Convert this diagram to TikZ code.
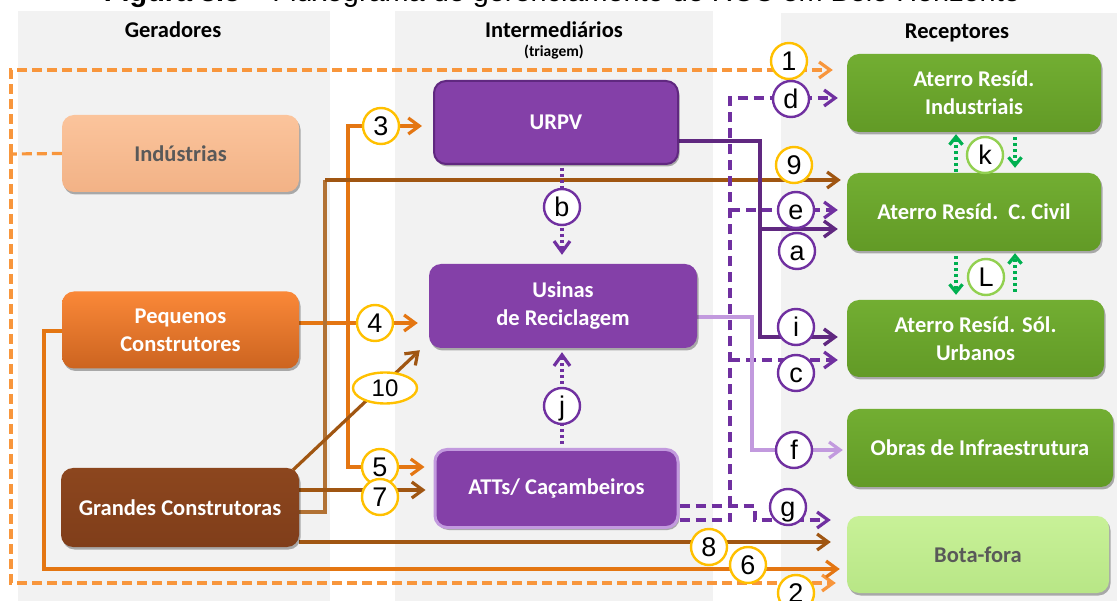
\documentclass[tikz,border=0pt]{standalone}
\usepackage{fontspec}
\setmainfont{Carlito}
\newfontfamily\arialf{Liberation Sans}
\usetikzlibrary{arrows.meta,shadows,shapes.geometric,calc}
\pgfdeclarelayer{bg}
\pgfsetlayers{bg,main}

\definecolor{panelc}{RGB}{242,242,242}
\definecolor{orgL}{RGB}{248,150,60}
\definecolor{org}{RGB}{228,118,18}
\definecolor{brn}{RGB}{160,86,18}
\definecolor{brnL}{RGB}{178,114,52}
\definecolor{purD}{RGB}{96,40,128}
\definecolor{pur}{RGB}{112,48,160}
\definecolor{purL}{RGB}{194,154,222}
\definecolor{boxP}{RGB}{132,64,168}
\definecolor{grnA}{RGB}{0,176,80}
\definecolor{yel}{RGB}{255,192,0}
\definecolor{grnC}{RGB}{146,208,80}
\definecolor{txtG}{RGB}{89,89,89}

\tikzset{
  head/.style={inner sep=0, font=\bfseries\fontsize{22.5}{26}\selectfont},
  subhead/.style={inner sep=0, font=\bfseries\fontsize{15.5}{18}\selectfont},
  box/.style={rounded corners=12pt, inner sep=0, align=center, text=white,
    font=\bfseries\fontsize{22.5}{28}\selectfont,
    drop shadow={shadow xshift=1.5pt, shadow yshift=-2.5pt, opacity=0.3, fill=black}},
  arr/.style={-{Straight Barb[length=11pt,width=16pt]}},
  sarr/.style={-{Straight Barb[length=8pt,width=13pt]}},
  odash/.style={draw=orgL, line width=3.2pt, dash pattern=on 10pt off 5pt},
  oline/.style={draw=org, line width=3.2pt},
  bline/.style={draw=brn, line width=3.2pt},
  bline9/.style={draw=brnL, line width=3.2pt},
  pline/.style={draw=purD, line width=3.4pt},
  pdash/.style={draw=pur, line width=3.2pt, dash pattern=on 10pt off 6pt},
  pdot/.style={draw=pur, line width=3.2pt, dash pattern=on 3pt off 3pt},
  fline/.style={draw=purL, line width=3.2pt},
  gdot/.style={draw=grnA, line width=3.2pt, dash pattern=on 3pt off 3pt},
  lab/.style={circle, fill=white, draw=#1, line width=2.4pt, minimum size=36pt,
    inner sep=0, text height=19pt, text depth=0pt,
    font=\arialf\fontsize{27}{27}\selectfont},
}

\begin{document}
\begin{tikzpicture}[x=1pt,y=-1pt]
\useasboundingbox (0,0) rectangle (1117,601);

% boxes
\node[box, top color={rgb,255:red,251;green,196;blue,156}, bottom color={rgb,255:red,242;green,178;blue,134}, text=txtG,
  minimum width=237pt, minimum height=77pt] (ind) at (180.5,153.5) {Indústrias};
\node[box, top color={rgb,255:red,250;green,136;blue,56}, bottom color={rgb,255:red,204;green,100;blue,32},
  minimum width=237pt, minimum height=77pt] (peq) at (180.5,330) {Pequenos\\Construtores};
\node[box, top color={rgb,255:red,140;green,70;blue,30}, bottom color={rgb,255:red,128;green,62;blue,26},
  minimum width=238pt, minimum height=79pt] (gra) at (180,507.5) {Grandes Construtoras};

\node[box, fill=boxP, draw=purD, line width=2pt,
  minimum width=244pt, minimum height=83pt] (urpv) at (556,122.5) {URPV};
\node[box, fill=boxP,
  minimum width=268pt, minimum height=84pt] (usi) at (563,306) {Usinas\\de Reciclagem};
\node[box, fill=boxP, draw=purL, line width=3pt,
  minimum width=243pt, minimum height=78pt] (att) at (556.5,488.5) {ATTs/ Caçambeiros};

\node[box, top color={rgb,255:red,114;green,174;blue,50}, bottom color={rgb,255:red,98;green,154;blue,38},
  minimum width=254pt, minimum height=78pt] (ari) at (974,93) {Aterro Resíd.\\Industriais};
\node[box, top color={rgb,255:red,114;green,174;blue,50}, bottom color={rgb,255:red,98;green,154;blue,38},
  minimum width=254pt, minimum height=78pt] (arc) at (974,212) {Aterro Resíd.\ \ C. Civil};
\node[box, top color={rgb,255:red,114;green,174;blue,50}, bottom color={rgb,255:red,98;green,154;blue,38},
  minimum width=257pt, minimum height=77pt] (ars) at (975.5,338.5) {Aterro Resíd. Sól.\\Urbanos};
\node[box, top color={rgb,255:red,114;green,174;blue,50}, bottom color={rgb,255:red,98;green,154;blue,38},
  minimum width=266pt, minimum height=78pt] (obr) at (980,448) {Obras de Infraestrutura};
\node[box, top color={rgb,255:red,200;green,241;blue,152}, bottom color={rgb,255:red,184;green,230;blue,134}, text=txtG,
  minimum width=262pt, minimum height=77pt] (bot) at (978,554.5) {Bota-fora};

% headers and title
\node[anchor=base, inner sep=0] (title) at (562,1.5) {\resizebox{916pt}{!}{\arialf\fontsize{27}{30}\selectfont\textbf{Figura 3.5} – Fluxograma de gerenciamento de RCC em Belo Horizonte}};
\node[head] (hg) at (173,30) {Geradores};
\node[head] (hi) at (554,30) {Intermediários};
\node[subhead] (ht) at (554,52) {(triagem)};
\node[head] (hr) at (957,33) {Receptores};

\begin{pgfonlayer}{bg}
\fill[panelc] (18,11) rectangle (330,601);
\fill[panelc] (395,11) rectangle (713,601);
\fill[panelc] (781,13) rectangle (1117,601);

% orange dashed (1, 2)
\coordinate (cT) at (11,70);
\coordinate (cL) at (11,154);
\coordinate (cB) at (11,583);
\draw[odash] (ind.west) -- (cL);
\draw[odash,arr,shorten >=14pt] (cL) -- (cT) -- (ari.west |- cT);
\draw[odash,arr,shorten >=11pt] (cL) -- (cB) -- (bot.west |- cB);

% pequenos construtores (3,4,5,6)
\coordinate (p4) at (348,323);
\coordinate (p3) at (348,126);
\coordinate (p5) at (348,467);
\draw[oline,arr,shorten >=11pt] (peq.east |- p4) -- (usi.west |- p4);
\draw[oline,arr,shorten >=11pt] (p4) -- (p3) -- (urpv.west |- p3);
\draw[oline,arr,shorten >=9pt] (p4) -- (p5) -- (att.west |- p5);
\coordinate (p6a) at (44,331);
\coordinate (p6b) at (44,569);
\draw[oline,arr,shorten >=7pt] (peq.west |- p6a) -- (p6a) -- (p6b) -- (bot.west |- p6b);

% grandes construtoras (7,8,9,10)
\coordinate (g9a) at (325,512);
\coordinate (g9b) at (325,180);
\draw[bline9] (gra.east |- g9a) -- (g9a) -- (g9b);
\draw[bline,arr,shorten >=6pt] (g9b) -- (arc.west |- g9b);
\coordinate (g7) at (0,490);
\draw[bline,arr,shorten >=8pt] (gra.east |- g7) -- (att.west |- g7);
\coordinate (g8) at (0,542);
\draw[bline,arr,shorten >=16pt] (gra.east |- g8) -- (bot.west |- g8);
\draw[bline,arr] ([xshift=-6pt,yshift=-2pt]gra.north east) -- ([xshift=-9pt,yshift=-2pt]usi.south west);

% URPV (a, i)
\coordinate (u1) at (760,141);
\coordinate (ua) at (760,229);
\coordinate (ui) at (760,337);
\draw[pline,arr,shorten >=9pt] (urpv.east |- u1) -- (u1) -- (ui) -- (ars.west |- ui);
\draw[pline,arr,shorten >=9pt] (ua) -- (arc.west |- ua);

% ATTs dashed (d, e, c, g)
\coordinate (vd) at (730,98);
\coordinate (ve) at (730,210);
\coordinate (vc) at (730,360);
\coordinate (vb) at (730,520);
\draw[pdash,arr,shorten >=9pt] (att.east |- vb) -- (vb) -- (vd) -- (ari.west |- vd);
\draw[pdash,arr,shorten >=9pt] (ve) -- (arc.west |- ve);
\draw[pdash,arr,shorten >=9pt] (vc) -- (ars.west |- vc);
\coordinate (vg1) at (755,506);
\coordinate (vg2) at (755,520);
\draw[pdash,arr,shorten >=16pt] (att.east |- vg1) -- (vg1) -- (vg2) -- (bot.west |- vg2);

% dotted b, j
\coordinate (bx) at (562,0);
\draw[pdot,arr,shorten <=3pt,shorten >=9pt] (urpv.south -| bx) -- (usi.north -| bx);
\draw[pdot,arr,shorten <=4pt,shorten >=4pt] (att.north -| bx) -- (usi.south -| bx);

% f
\coordinate (f1) at (752,317);
\coordinate (f2) at (752,450);
\draw[fline,arr,shorten >=4pt] (usi.east |- f1) -- (f1) -- (f2) -- (obr.west |- f2);

% green k, L
\coordinate (k1) at (956,0);
\coordinate (k2) at (1015,0);
\draw[gdot,sarr,shorten <=1pt,shorten >=2pt] (arc.north -| k1) -- (ari.south -| k1);
\draw[gdot,sarr,shorten <=5pt,shorten >=5pt] (ari.south -| k2) -- (arc.north -| k2);
\draw[gdot,sarr,shorten <=5pt,shorten >=5pt] (arc.south -| k1) -- (ars.north -| k1);
\draw[gdot,sarr,shorten <=8pt,shorten >=2pt] (ars.north -| k2) -- (arc.south -| k2);
\end{pgfonlayer}

% labels
\node[lab=yel] (n1) at (789,61) {1};
\node[lab=yel] (n2) at (796,593) {2};
\node[lab=yel] (n3) at (381,126) {3};
\node[lab=yel] (n4) at (375,323) {4};
\node[lab=yel] (n5) at (380,467) {5};
\node[lab=yel] (n6) at (748,565) {6};
\node[lab=yel] (n7) at (380,497) {7};
\node[lab=yel] (n8) at (709,547) {8};
\node[lab=yel] (n9) at (794,165) {9};
\node[lab=yel, ellipse, minimum width=64pt, minimum height=31pt, font=\arialf\fontsize{24}{24}\selectfont, text height=17pt] (n10) at (385,388) {10};
\node[lab=pur] (la) at (797,251) {a};
\node[lab=pur] (lb) at (562,207) {b};
\node[lab=pur] (lc) at (796,373) {c};
\node[lab=pur] (ld) at (791,99) {d};
\node[lab=pur] (le) at (796,210) {e};
\node[lab=pur] (lf) at (794,450) {f};
\node[lab=pur] (lg) at (788,507) {g};
\node[lab=pur] (li) at (796,327) {i};
\node[lab=pur] (lj) at (562,406) {j};
\node[lab=grnC] (lk) at (985,155) {k};
\node[lab=grnC] (lL) at (986,277) {L};
\end{tikzpicture}
\end{document}
